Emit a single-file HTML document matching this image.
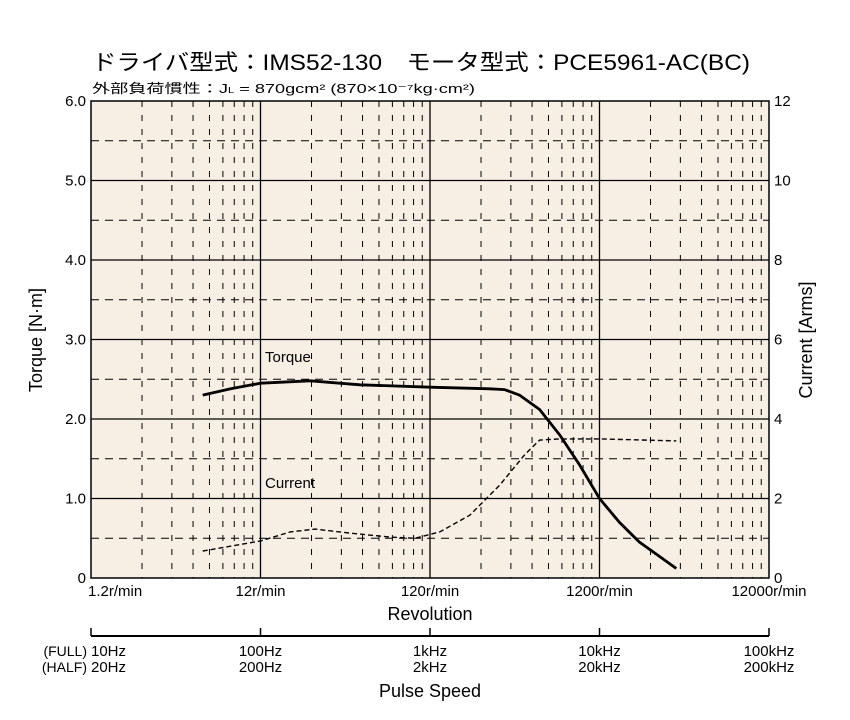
<!DOCTYPE html>
<html><head><meta charset="utf-8"><style>
body{margin:0;background:#fff}
svg{display:block;font-family:"Liberation Sans","Noto Sans CJK JP",sans-serif}
</style></head><body>
<svg id="chart" width="850" height="720" viewBox="0 0 850 720">
<text x="92" y="70" font-size="22" textLength="658" lengthAdjust="spacingAndGlyphs">ドライバ型式：IMS52-130　モータ型式：PCE5961-AC(BC)</text>
<text x="92" y="93" font-size="13" textLength="383" lengthAdjust="spacingAndGlyphs">外部負荷慣性：J<tspan font-size="8">L</tspan> = 870gcm² (870×10⁻⁷kg·cm²)</text>
<rect x="91" y="101" width="678" height="477" fill="#f8efe4"/>
<g id="grid"></g>
<g id="series"></g>
<rect x="91" y="101" width="678" height="477" fill="none" stroke="#000" stroke-width="1.5"/>
<g id="axes" font-size="15"></g>
<text x="265" y="362" font-size="15">Torque</text>
<text x="265" y="488" font-size="15">Current</text>
<text x="430" y="620" font-size="18" text-anchor="middle">Revolution</text>
<text x="430" y="697" font-size="18" text-anchor="middle">Pulse Speed</text>
<text transform="translate(42,340) rotate(-90)" font-size="18" text-anchor="middle">Torque [N·m]</text>
<text transform="translate(812,340) rotate(-90)" font-size="18" text-anchor="middle">Current [Arms]</text>
<text x="87" y="656" font-size="14" text-anchor="end">(FULL)</text>
<text x="87" y="672" font-size="14" text-anchor="end">(HALF)</text>
</svg>
<script>
const rpmTicks=["1.2r/min","12r/min","120r/min","1200r/min","12000r/min"];
const fullTicks=["10Hz","100Hz","1kHz","10kHz","100kHz"];
const halfTicks=["20Hz","200Hz","2kHz","20kHz","200kHz"];
const torqueTicks=["0","1.0","2.0","3.0","4.0","5.0","6.0"];
const currentTicks=["0","2","4","6","8","10","12"];
const torqueRpm=[5.47,8.0,12,23.6,46.3,120,270,330,405,532,699,917,1200,1575,2067,2714,3408];
const torqueVal=[2.30,2.38,2.45,2.48,2.43,2.40,2.38,2.37,2.30,2.12,1.80,1.42,1.00,0.70,0.45,0.27,0.12];
const currentRpm=[5.47,12,18,25.2,40.5,69.8,98,137,206,310,434,532,699,1200,3408];
const currentVal=[0.68,0.93,1.16,1.23,1.13,1.03,1.0,1.16,1.58,2.34,3.1,3.47,3.5,3.5,3.45];
const NS="http://www.w3.org/2000/svg";
const X0=91,X1=769,Y0=578,Y1=101;
const xs=r=>X0+(Math.log10(r/1.2))/4*(X1-X0);
const yT=v=>Y0-v/6*(Y0-Y1);
const yC=v=>Y0-v/12*(Y0-Y1);
function mk(tag,attrs,parent){const e=document.createElementNS(NS,tag);for(const k in attrs)e.setAttribute(k,attrs[k]);parent.appendChild(e);return e;}
const grid=document.getElementById('grid'),axes=document.getElementById('axes'),series=document.getElementById('series');
for(let d=0;d<4;d++){for(let m=2;m<=9;m++){const x=xs(1.2*Math.pow(10,d)*m);
const l=mk('line',{x1:x,x2:x,y1:Y1,y2:Y0,stroke:'#000','stroke-width':1,'stroke-dasharray':'6,8'},grid);

}}
for(let i=1;i<4;i++){const x=xs(1.2*Math.pow(10,i));
const l=mk('line',{x1:x,x2:x,y1:Y1,y2:Y0,stroke:'#000','stroke-width':1.3},grid);

}
for(let k=1;k<12;k++){const y=yT(k*0.5);const solid=k%2==0;
const l=mk('line',{x1:X0,x2:X1,y1:y,y2:y,stroke:'#000','stroke-width':solid?1.3:1,'stroke-dasharray':solid?'none':'8,6'},grid);

}
rpmTicks.forEach((t,i)=>{const x=X0+i*(X1-X0)/4;
const e=mk('text',{x:i==0?x-3:x,y:596,'text-anchor':i==0?'start':'middle','font-size':15},axes);e.textContent=t;


const tk=mk('line',{x1:x,x2:x,y1:628,y2:636,stroke:'#000','stroke-width':1.5},axes);


const f=mk('text',{x:i==0?x:x,y:656,'text-anchor':i==0?'start':'middle','font-size':15},axes);f.textContent=fullTicks[i];


const h=mk('text',{x:i==0?x:x,y:672,'text-anchor':i==0?'start':'middle','font-size':15},axes);h.textContent=halfTicks[i];

});
const pl=mk('line',{x1:X0,x2:X1,y1:636,y2:636,stroke:'#000','stroke-width':2},axes);


torqueTicks.forEach((t,i)=>{const e=mk('text',{x:86,y:yT(i)+5,'text-anchor':'end','font-size':15},axes);e.textContent=t;

});
currentTicks.forEach((t,i)=>{const e=mk('text',{x:774,y:yC(i*2)+5,'font-size':15},axes);e.textContent=t;

});
const tp=mk('path',{d:torqueRpm.map((r,i)=>(i?'L':'M')+xs(r).toFixed(1)+','+yT(torqueVal[i]).toFixed(1)).join(''),fill:'none',stroke:'#000','stroke-width':2.8},series);


const cp=mk('path',{d:currentRpm.map((r,i)=>(i?'L':'M')+xs(r).toFixed(1)+','+yC(currentVal[i]).toFixed(1)).join(''),fill:'none',stroke:'#000','stroke-width':1.4,'stroke-dasharray':'5,3'},series);


</script>
</body></html>
